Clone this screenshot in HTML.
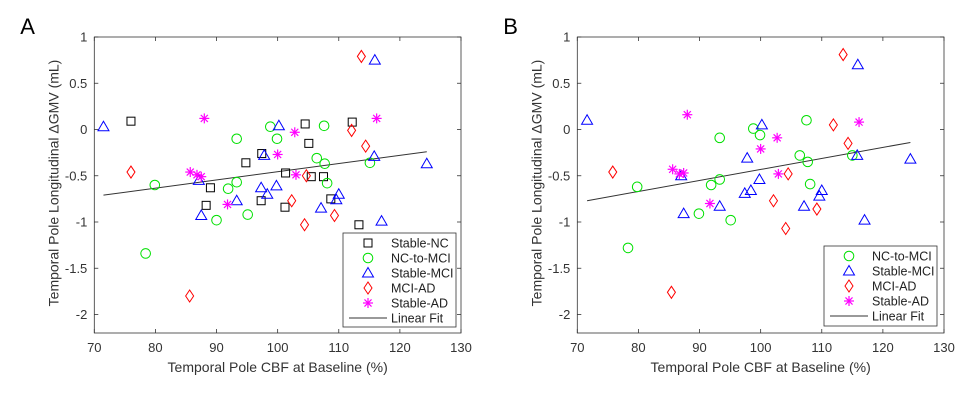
<!DOCTYPE html>
<html><head><meta charset="utf-8"><style>
body{margin:0;background:#fff;width:974px;height:400px;overflow:hidden}
svg{font-family:"Liberation Sans",sans-serif}
</style></head><body>
<svg id="fig" width="974" height="400" viewBox="0 0 974 400"></svg>
<script>
// ---- Data ----
const xTicks=[70,80,90,100,110,120,130];
const yTicks=[1,0.5,0,-0.5,-1,-1.5,-2];
const yTickLabels=["1","0.5","0","-0.5","-1","-1.5","-2"];
// Panel A
const aNCx=[76,89.0,88.3,94.8,97.4,97.3,101.3,101.2,104.5,105.1,105.5,107.5,108.7,112.2,113.3];
const aNCy=[0.09,-0.63,-0.82,-0.36,-0.26,-0.77,-0.47,-0.84,0.06,-0.15,-0.51,-0.51,-0.75,0.08,-1.03];
const aNMx=[78.4,79.9,90,91.9,93.3,93.3,95.1,98.8,99.9,106.4,107.6,107.7,108.1,115.1];
const aNMy=[-1.34,-0.6,-0.98,-0.64,-0.57,-0.1,-0.92,0.03,-0.1,-0.31,0.04,-0.37,-0.58,-0.36];
const aSMx=[71.5,87.1,87.5,93.3,97.3,97.8,98.3,99.8,100.2,107.1,109.6,110.0,115.9,115.8,117,124.4];
const aSMy=[0.03,-0.55,-0.93,-0.77,-0.63,-0.28,-0.7,-0.61,0.04,-0.85,-0.76,-0.7,0.75,-0.29,-0.99,-0.37];
const aMAx=[76,85.6,102.3,104.4,104.7,109.3,112.1,113.7,114.4];
const aMAy=[-0.46,-1.8,-0.77,-1.03,-0.5,-0.93,-0.01,0.79,-0.18];
const aSAx=[88.0,85.7,86.8,87.5,91.8,100,102.8,103,116.2];
const aSAy=[0.12,-0.46,-0.49,-0.51,-0.81,-0.27,-0.03,-0.49,0.12];
const aFitX=[71.5,124.4];
const aFitY=[-0.71,-0.24];
// Panel B
const bNMx=[78.3,79.8,89.9,91.9,93.3,93.3,95.1,98.8,99.9,106.4,107.5,107.7,108.1,115];
const bNMy=[-1.28,-0.62,-0.91,-0.6,-0.54,-0.09,-0.98,0.01,-0.06,-0.28,0.1,-0.35,-0.59,-0.28];
const bSMx=[71.6,87.0,87.4,93.3,97.4,97.8,98.4,99.8,100.2,107.1,109.6,110,115.9,115.8,117,124.5];
const bSMy=[0.1,-0.5,-0.91,-0.83,-0.69,-0.31,-0.66,-0.54,0.05,-0.83,-0.72,-0.66,0.7,-0.28,-0.98,-0.32];
const bMAx=[75.8,85.4,102.1,104.1,104.5,109.2,111.9,113.5,114.3];
const bMAy=[-0.46,-1.76,-0.77,-1.07,-0.48,-0.86,0.05,0.81,-0.15];
const bSAx=[88,85.6,86.7,87.4,91.7,100,102.7,102.9,116.1];
const bSAy=[0.16,-0.43,-0.48,-0.47,-0.8,-0.21,-0.09,-0.48,0.08];
const bFitX=[71.6,124.5];
const bFitY=[-0.77,-0.14];

const NS="http://www.w3.org/2000/svg";
const svg=document.getElementById('fig');
function mk(tag,attrs,parent){const e=document.createElementNS(NS,tag);for(const k in attrs)e.setAttribute(k,attrs[k]);(parent||svg).appendChild(e);return e;}

function panel(letter,L,R,T,B,series,fitX,fitY,legend,key){
  const g=mk('g',{});
  
  
  const sx=v=>L+(v-70)/60*(R-L);
  const sy=v=>T+(1-v)/3.2*(B-T);
  const lt=mk('text',{x:L-74,y:34,'font-size':22,fill:'#000'},g);lt.textContent=letter;
  
  
  const box=mk('rect',{x:L,y:T,width:R-L,height:B-T,fill:'none',stroke:'#333','stroke-width':0.8},g);
  
  
  xTicks.forEach(t=>{
    const x=sx(t);
    mk('line',{x1:x,y1:B,x2:x,y2:B-4,stroke:'#333','stroke-width':0.8},g);
    mk('line',{x1:x,y1:T,x2:x,y2:T+4,stroke:'#333','stroke-width':0.8},g);
    const tx=mk('text',{x:x,y:352,'font-size':13,'text-anchor':'middle',fill:'#333'},g);tx.textContent=t;
    
    
  });
  yTicks.forEach((t,i)=>{
    const y=sy(t);
    mk('line',{x1:L,y1:y,x2:L+4,y2:y,stroke:'#333','stroke-width':0.8},g);
    mk('line',{x1:R,y1:y,x2:R-4,y2:y,stroke:'#333','stroke-width':0.8},g);
    const ty=mk('text',{x:L-7,y:y+4.5,'font-size':13,'text-anchor':'end',fill:'#333'},g);ty.textContent=yTickLabels[i];
    
    
  });
  const xt=mk('text',{x:(L+R)/2,y:372,'font-size':14,'text-anchor':'middle',fill:'#333'},g);
  xt.textContent='Temporal Pole CBF at Baseline (%)';
  
  
  const yt=mk('text',{x:0,y:0,'font-size':14,'text-anchor':'middle',fill:'#333',transform:`translate(${L-36},${(T+B)/2-2}) rotate(-90)`},g);
  yt.textContent='Temporal Pole Longitudinal  \u0394GMV (mL)';
  
  
  const fl=mk('line',{x1:sx(fitX[0]),y1:sy(fitY[0]),x2:sx(fitX[1]),y2:sy(fitY[1]),stroke:'#333','stroke-width':1},g);
  
  
  series.forEach(s=>{
    s.xs.forEach((xv,i)=>{
      const m=marker(s.type,sx(xv),sy(s.ys[i]),g);
      
      
    });
  });
  // legend
  const lg=mk('g',{},g);
  
  
  mk('rect',{x:legend.x,y:legend.y,width:113,height:legend.h,fill:'#fff',stroke:'#333','stroke-width':0.8},lg);
  const items=series.concat([{type:'line',label:'Linear Fit'}]);
  items.forEach((s,i)=>{
    const y=legend.y+10+i*15;
    const it=mk('g',{},lg);
    
    
    if(s.type==='line') mk('line',{x1:legend.x+6,y1:y,x2:legend.x+44,y2:y,stroke:'#333','stroke-width':1},it);
    else marker(s.type,legend.x+25,y,it);
    const tt=mk('text',{x:legend.x+48,y:y+4.5,'font-size':12.5,fill:'#222'},it);tt.textContent=s.label;
  });
}
function marker(type,x,y,p){
  if(type==='sq') return mk('rect',{x:x-4,y:y-4,width:8,height:8,fill:'none',stroke:'#000','stroke-width':1},p);
  if(type==='ci') return mk('circle',{cx:x,cy:y,r:4.8,fill:'none',stroke:'#00e000','stroke-width':1},p);
  if(type==='tr') return mk('polygon',{points:`${x},${y-5.5} ${x-5.5},${y+4} ${x+5.5},${y+4}`,fill:'none',stroke:'#0000ff','stroke-width':1},p);
  if(type==='di') return mk('polygon',{points:`${x},${y-6} ${x-4},${y} ${x},${y+6} ${x+4},${y}`,fill:'none',stroke:'#ff0000','stroke-width':1},p);
  if(type==='st'){const gg=mk('g',{stroke:'#ff00ff','stroke-width':1.2},p);
    for(let a=0;a<180;a+=45){const r=a*Math.PI/180;mk('line',{x1:x-5*Math.cos(r),y1:y-5*Math.sin(r),x2:x+5*Math.cos(r),y2:y+5*Math.sin(r)},gg);}
    return gg;}
}
panel('A',94.3,461,37,333,[
  {type:'sq',name:'stable-nc',label:'Stable-NC',xs:aNCx,ys:aNCy},
  {type:'ci',name:'nc-to-mci',label:'NC-to-MCI',xs:aNMx,ys:aNMy},
  {type:'tr',name:'stable-mci',label:'Stable-MCI',xs:aSMx,ys:aSMy},
  {type:'di',name:'mci-ad',label:'MCI-AD',xs:aMAx,ys:aMAy},
  {type:'st',name:'stable-ad',label:'Stable-AD',xs:aSAx,ys:aSAy}
],aFitX,aFitY,{x:343,y:233,h:94},'a');
panel('B',577.3,944,37,333,[
  {type:'ci',name:'nc-to-mci',label:'NC-to-MCI',xs:bNMx,ys:bNMy},
  {type:'tr',name:'stable-mci',label:'Stable-MCI',xs:bSMx,ys:bSMy},
  {type:'di',name:'mci-ad',label:'MCI-AD',xs:bMAx,ys:bMAy},
  {type:'st',name:'stable-ad',label:'Stable-AD',xs:bSAx,ys:bSAy}
],bFitX,bFitY,{x:824,y:246,h:80},'b');
</script>
</body></html>
